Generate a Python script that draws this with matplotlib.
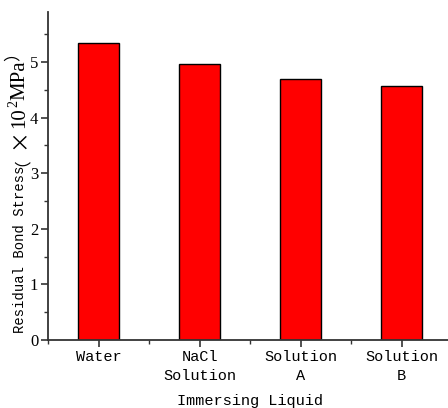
import matplotlib

matplotlib.use("Agg")
import matplotlib.pyplot as plt
from matplotlib.ticker import MultipleLocator

categories = ["Water", "NaCl\nSolution", "Solution\nA", "Solution\nB"]
stress = [5.34, 4.96, 4.70, 4.57]

mono = ["Liberation Mono", "Noto Sans CJK SC", "DejaVu Sans"]
cjk = ["Noto Sans CJK SC", "DejaVu Sans"]
serif = "Liberation Serif"

fig = plt.figure(figsize=(4.48, 4.08), dpi=100)
ax = fig.add_axes([48 / 448, 68 / 408, 404 / 448, 328 / 408])

x = range(1, len(stress) + 1)
ax.bar(x, stress, width=0.4, color="#ff0000", edgecolor="black", linewidth=1.0)

ax.set_xlim(0.5, 4.5)
ax.set_ylim(0, 5.9)
ax.set_xticks(list(x))
ax.set_xticklabels(categories, fontfamily=mono, fontsize=11, linespacing=1.45)
ax.xaxis.set_minor_locator(MultipleLocator(1, offset=0.5))
ax.yaxis.set_major_locator(MultipleLocator(1))
ax.yaxis.set_minor_locator(MultipleLocator(0.5))
for lab in ax.get_yticklabels():
    lab.set_fontfamily(serif)
    lab.set_fontsize(12)

for side in ("top", "right"):
    ax.spines[side].set_visible(False)
for side in ("left", "bottom"):
    ax.spines[side].set_linewidth(1.3)
    ax.spines[side].set_color("#333333")
ax.tick_params(which="major", direction="out", length=5, width=1.2, color="#333333", pad=2)
ax.tick_params(which="minor", direction="out", length=3, width=1.0, color="#333333")

ax.set_xlabel("Immersing Liquid", fontfamily=mono, fontsize=11, labelpad=8)

# vertical y label built from pieces in different fonts, sharing one baseline
# (text, family, size, baseline raise in px)
pieces = [
    ("Residual Bond Stress", mono, 10, 0),
    ("（", cjk, 12, 6),
    ("×", cjk, 15, 0),
    ("10", serif, 15, 0),
    ("2", serif, 10, 7),
    ("MPa", serif, 15, 0),
    ("）", cjk, 12, 6),
]
base_px = 24
y = 75 / 408
renderer = fig.canvas.get_renderer()
for text, family, size, lift in pieces:
    t = fig.text((base_px - lift) / 448, y, text, rotation=90, rotation_mode="anchor",
                 ha="left", va="baseline", fontfamily=family, fontsize=size)
    bb = t.get_window_extent(renderer).transformed(fig.transFigure.inverted())
    y = bb.y1

fig.savefig("out.png", dpi=100)
